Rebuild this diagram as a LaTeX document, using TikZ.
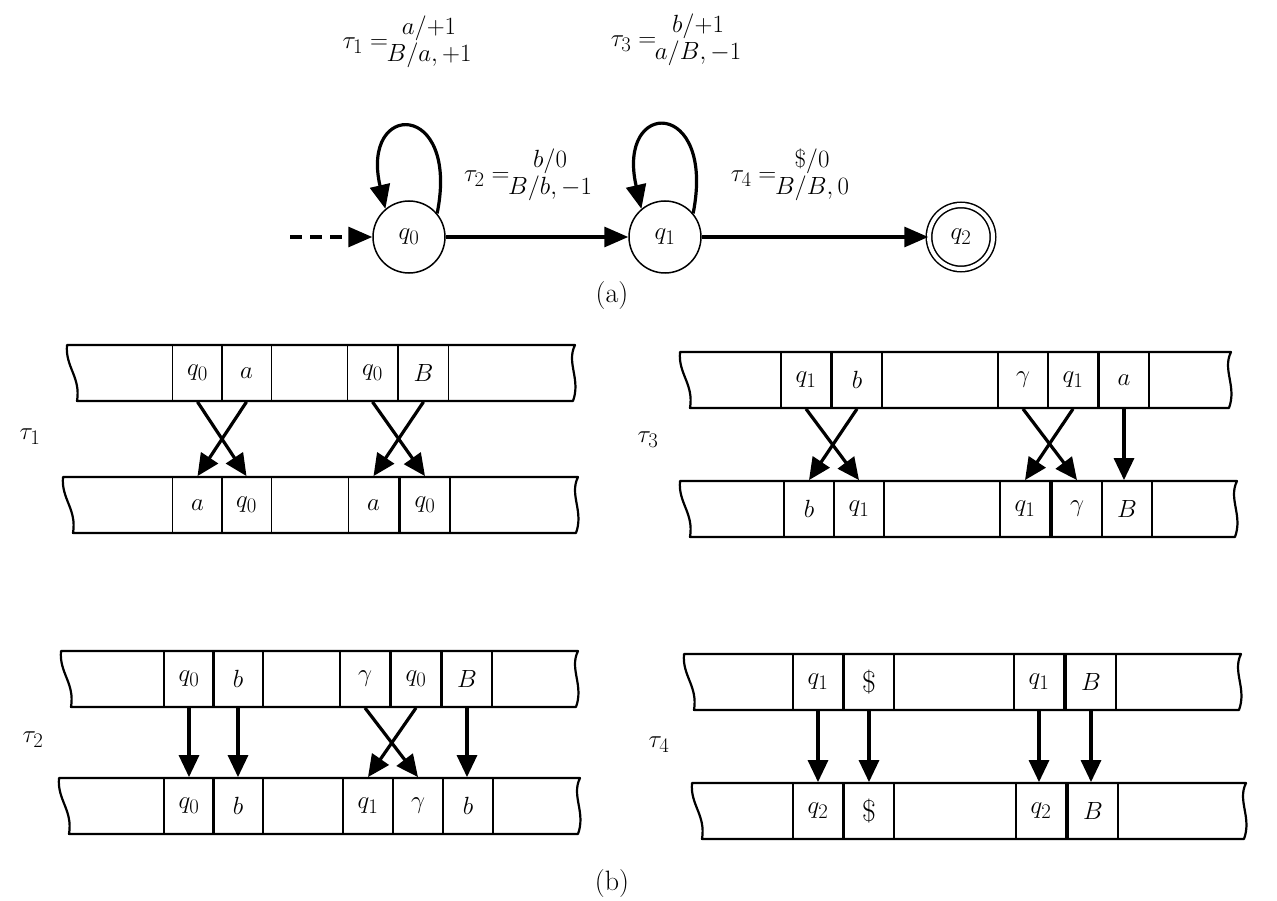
\documentclass[tikz,border=0pt]{standalone}
\usetikzlibrary{arrows.meta}
\newcommand\tapeoutline[4]{%
  \draw[tl] (#1,#3) -- (#2,#3)
    .. controls (#2-9,#3+18) and (#2+6,#4-22) .. (#2-2,#4)
    -- (#1+10,#4)
    .. controls (#1+14,#4-24) and (#1-2,#3+22) .. (#1,#3) -- cycle;}
\begin{document}
\begin{tikzpicture}[x=1pt,y=-1pt]
\tikzset{
 tl/.style={line width=2.2pt, line join=round},
 cell/.style={draw, line width=1.8pt, minimum width=50pt, minimum height=56pt, inner sep=0pt, font=\fontsize{30}{34}\selectfont},
 mv/.style={line width=3.2pt, -{Triangle[length=22pt,width=20pt]}},
 st/.style={circle, draw, line width=1.5pt, minimum size=72pt, inner sep=0pt, font=\fontsize{32}{36}\selectfont},
 lab/.style={font=\fontsize{28}{32}\selectfont, inner sep=0pt},
 tr/.style={line width=3.2pt, -{Triangle[length=24pt,width=20pt]}},
}
\useasboundingbox (0,0) rectangle (1277,901);
\fill[white] (0,0) rectangle (1277,901);

% ---------- (a) state diagram ----------
\node[st] (q0) at (409,237) {$q_0$};
\node[st] (q1) at (665,237) {$q_1$};
\node[circle, draw, line width=1.5pt, double, double distance=4pt, minimum size=64pt, inner sep=0pt, font=\fontsize{32}{36}\selectfont] (q2) at (961,237) {$q_2$};
\coordinate (init) at (290,237);
\draw[tr, dash pattern=on 12pt off 8pt] (init) -- (q0);
\draw[tr] (q0) -- (q1);
\draw[tr] (q1) -- (q2);
\draw[tr] (q0.40) .. controls (460,100) and (360,100) .. (q0.130);
\draw[tr] (q1.40) .. controls (716,98) and (616,98) .. (q1.130);
\node[lab] (l1) at (407,42) {$\tau_1 =\!\!\begin{array}{@{}c@{}} a/{+1}\\[-5pt] B/a,{+1}\end{array}$};
\node[lab] (l3) at (676,40) {$\tau_3 =\!\!\begin{array}{@{}c@{}} b/{+1}\\[-5pt] a/B,{-1}\end{array}$};
\node[lab] (l2) at (528,175) {$\tau_2 =\!\!\begin{array}{@{}c@{}} b/0\\[-5pt] B/b,{-1}\end{array}$};
\node[lab] (l4) at (790,175) {$\tau_4 =\!\!\begin{array}{@{}c@{}} \$/0\\[-5pt] B/B,0\end{array}$};
\node[lab] (capa) at (612,296) {(a)};

% ---------- tau_1 ----------
\tapeoutline{67}{575}{345}{401}
\tapeoutline{63}{578}{477}{533}
\node[cell] (a1) at (197.5,373) {$q_0$};
\node[cell] (a2) at (246.5,373) {$a$};
\node[cell] (a3) at (372.5,373) {$q_0$};
\node[cell] (a4) at (423.5,373) {$B$};
\node[cell] (b1) at (197.5,505) {$a$};
\node[cell] (b2) at (246.5,505) {$q_0$};
\node[cell] (b3) at (373.5,505) {$a$};
\node[cell] (b4) at (425,505) {$q_0$};
\draw[mv] (a1.south) -- (b2.north);
\draw[mv] (a2.south) -- (b1.north);
\draw[mv] (a3.south) -- (b4.north);
\draw[mv] (a4.south) -- (b3.north);
\node[lab] (t1) at (30,437) {$\tau_1$};

% ---------- tau_3 ----------
\tapeoutline{680}{1231}{352}{408}
\tapeoutline{680}{1237}{481}{537}
\node[cell] (c1) at (806,380) {$q_1$};
\node[cell] (c2) at (857,380) {$b$};
\node[cell] (c3) at (1023,380) {$\gamma$};
\node[cell] (c4) at (1073,380) {$q_1$};
\node[cell] (c5) at (1124,380) {$a$};
\node[cell] (d1) at (809,509) {$b$};
\node[cell] (d2) at (859,509) {$q_1$};
\node[cell] (d3) at (1025,509) {$q_1$};
\node[cell] (d4) at (1077,509) {$\gamma$};
\node[cell] (d5) at (1127,509) {$B$};
\draw[mv] (c1.south) -- (d2.north);
\draw[mv] (c2.south) -- (d1.north);
\draw[mv] (c3.south) -- (d4.north);
\draw[mv] (c4.south) -- (d3.north);
\draw[mv] (c5.south) -- (c5.south |- d5.north);
\node[lab] (t3) at (648,440) {$\tau_3$};

% ---------- tau_2 ----------
\tapeoutline{61}{578}{651}{707}
\tapeoutline{59}{580}{778}{834}
\node[cell] (e1) at (189,679) {$q_0$};
\node[cell] (e2) at (238,679) {$b$};
\node[cell] (e3) at (365,679) {$\gamma$};
\node[cell] (e4) at (416,679) {$q_0$};
\node[cell] (e5) at (467,679) {$B$};
\node[cell] (f1) at (189,806) {$q_0$};
\node[cell] (f2) at (238,806) {$b$};
\node[cell] (f3) at (368,806) {$q_1$};
\node[cell] (f4) at (418,806) {$\gamma$};
\node[cell] (f5) at (468,806) {$b$};
\draw[mv] (e1.south) -- (e1.south |- f1.north);
\draw[mv] (e2.south) -- (e2.south |- f2.north);
\draw[mv] (e3.south) -- (f4.north);
\draw[mv] (e4.south) -- (f3.north);
\draw[mv] (e5.south) -- (e5.south |- f5.north);
\node[lab] (t2) at (33,740) {$\tau_2$};

% ---------- tau_4 ----------
\tapeoutline{684}{1241}{654}{710}
\tapeoutline{692}{1246}{783}{839}
\node[cell] (g1) at (818,682) {$q_1$};
\node[cell] (g2) at (869,682) {\$};
\node[cell] (g3) at (1039,682) {$q_1$};
\node[cell] (g4) at (1091,682) {$B$};
\node[cell] (h1) at (818,811) {$q_2$};
\node[cell] (h2) at (869,811) {\$};
\node[cell] (h3) at (1041,811) {$q_2$};
\node[cell] (h4) at (1093,811) {$B$};
\draw[mv] (g1.south) -- (g1.south |- h1.north);
\draw[mv] (g2.south) -- (g2.south |- h2.north);
\draw[mv] (g3.south) -- (g3.south |- h3.north);
\draw[mv] (g4.south) -- (g4.south |- h4.north);
\node[lab] (t4) at (659,745) {$\tau_4$};

\node[lab] (capb) at (612,884) {(b)};
\end{tikzpicture}
\end{document}
